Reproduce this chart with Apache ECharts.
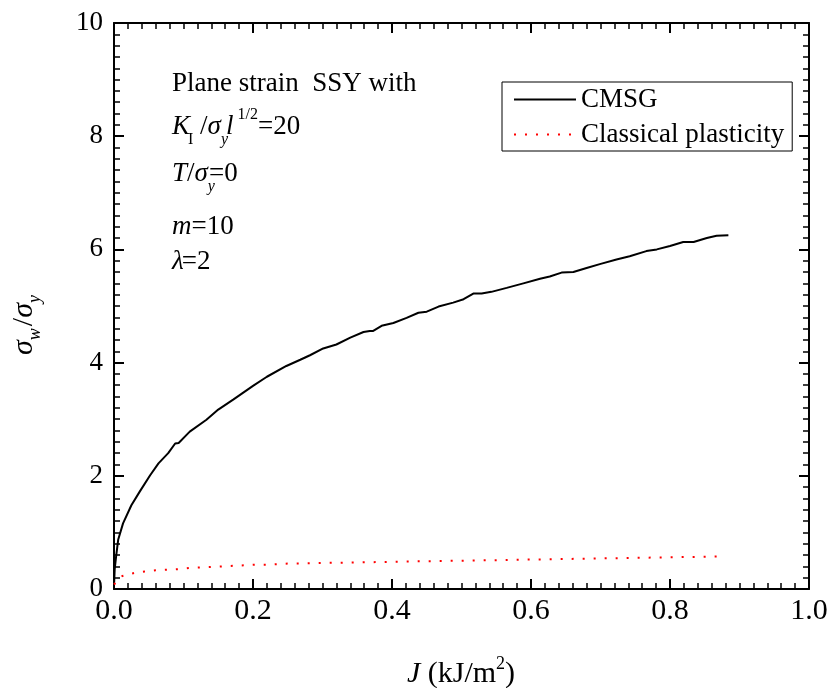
<!DOCTYPE html>
<html><head><meta charset="utf-8">
<script src="https://cdn.jsdelivr.net/npm/echarts@6/dist/echarts.min.js"></script>
<style>html,body{margin:0;padding:0;background:#fff}#c{width:831px;height:688px}</style>
</head><body><div id="c"></div>
<script>
// ---- data ----
const cmsgX = [0, 0.001, 0.003, 0.006, 0.013, 0.025, 0.037, 0.052, 0.064, 0.078, 0.088, 0.093, 0.109, 0.133, 0.150, 0.172, 0.186, 0.200, 0.220, 0.248, 0.268, 0.282, 0.301, 0.320, 0.340, 0.359, 0.368, 0.373, 0.385, 0.402, 0.421, 0.438, 0.450, 0.467, 0.488, 0.503, 0.517, 0.529, 0.543, 0.565, 0.589, 0.613, 0.627, 0.644, 0.661, 0.680, 0.699, 0.723, 0.742, 0.766, 0.781, 0.800, 0.819, 0.834, 0.853, 0.867, 0.884];
const cmsgY = [0.05, 0.35, 0.57, 0.87, 1.16, 1.48, 1.72, 2.01, 2.22, 2.40, 2.57, 2.58, 2.78, 2.99, 3.17, 3.35, 3.47, 3.59, 3.75, 3.94, 4.05, 4.13, 4.25, 4.32, 4.44, 4.54, 4.56, 4.56, 4.65, 4.70, 4.79, 4.88, 4.90, 4.99, 5.06, 5.12, 5.22, 5.22, 5.25, 5.32, 5.40, 5.48, 5.52, 5.59, 5.60, 5.67, 5.74, 5.82, 5.88, 5.97, 6.00, 6.06, 6.13, 6.13, 6.20, 6.24, 6.25];
const classX = [0, 0.012, 0.028, 0.044, 0.06, 0.076, 0.092, 0.108, 0.124, 0.14, 0.156, 0.172, 0.188, 0.204, 0.22, 0.236, 0.252, 0.268, 0.3, 0.35, 0.4, 0.445, 0.5, 0.55, 0.6, 0.65, 0.7, 0.75, 0.8, 0.85, 0.88];
const classY = [0.08, 0.23, 0.28, 0.31, 0.33, 0.34, 0.35, 0.37, 0.38, 0.39, 0.40, 0.41, 0.42, 0.43, 0.43, 0.44, 0.45, 0.45, 0.46, 0.47, 0.48, 0.49, 0.50, 0.51, 0.52, 0.53, 0.54, 0.55, 0.56, 0.57, 0.58];
const seriesNames = ['CMSG', 'Classical plasticity'];
const xRange = [0, 1.0, 0.2];
const yRange = [0, 10, 2];

// ---- helpers ----
const FONT = '"Liberation Serif","Times New Roman",serif';
const mctx = document.createElement('canvas').getContext('2d');
function fontOf(s){ return (s.it ? 'italic ' : '') + s.sz + 'px ' + FONT; }
function run(segs, x, y, opt){
  opt = opt || {};
  let cx = 0;
  const kids = segs.map(s => {
    const f = fontOf(s);
    mctx.font = f;
    const w = mctx.measureText(s.t).width;
    cx += (s.dx || 0);
    const el = {type:'text', x: cx, y: (s.dy || 0) - 0.30 * s.sz,
      style:{text: s.t, font: f, fill:'#000', align:'left', verticalAlign:'middle'}};
    cx += w;
    return el;
  });
  if (opt.center) kids.forEach(k => k.x -= cx / 2);
  return {type:'group', x: x, y: y, rotation: opt.rot || 0, children: kids, silent: true};
}
const S = (t, sz, it, dy, dx) => ({t, sz, it, dy, dx});

const chart = echarts.init(document.getElementById('c'), null, {renderer:'canvas'});
const axisCommon = {
  axisLine:{show:true, onZero:false, lineStyle:{color:'#000', width:2}},
  axisTick:{show:true, inside:true, length:10, lineStyle:{color:'#000', width:2}},
  minorTick:{show:true, splitNumber:10, length:6, lineStyle:{color:'#000', width:1.5}},
  splitLine:{show:false}
};
chart.setOption({
  animation:false,
  backgroundColor:'#fff',
  grid:{left:114, right:22, top:23, bottom:99, containLabel:false},
  legend:{
    left:502, top:82, orient:'vertical', padding:[4,8,3,11], itemGap:8,
    itemWidth:62, itemHeight:14, borderColor:'#000', borderWidth:1, borderRadius:0,
    itemStyle:{opacity:0, borderWidth:0},
    textStyle:{fontFamily:FONT, fontSize:27, color:'#000'},
    data: seriesNames
  },
  xAxis:[
    Object.assign({type:'value', min:xRange[0], max:xRange[1], interval:xRange[2], position:'bottom',
      axisLabel:{show:true, margin:7, fontFamily:FONT, fontSize:30, color:'#000', formatter:v=>v.toFixed(1)}}, axisCommon),
    Object.assign({type:'value', min:xRange[0], max:xRange[1], interval:xRange[2], position:'top',
      axisLabel:{show:false}}, axisCommon)
  ],
  yAxis:[
    Object.assign({type:'value', min:yRange[0], max:yRange[1], interval:yRange[2], position:'left',
      axisLabel:{show:true, margin:11, fontFamily:FONT, fontSize:27, color:'#000'}}, axisCommon),
    Object.assign({type:'value', min:yRange[0], max:yRange[1], interval:yRange[2], position:'right',
      axisLabel:{show:false}}, axisCommon)
  ],
  series:[
    {name:seriesNames[0], type:'line', symbol:'none', showSymbol:false, smooth:false,
      lineStyle:{color:'#000', width:2}, itemStyle:{color:'#000'},
      data: cmsgX.map((x,i)=>[x, cmsgY[i]])},
    {name:seriesNames[1], type:'line', symbol:'none', showSymbol:false, smooth:false,
      lineStyle:{color:'#ff0000', width:2, type:[2,9]}, itemStyle:{color:'#ff0000'},
      data: classX.map((x,i)=>[x, classY[i]])}
  ],
  graphic:[
    run([S('Plane strain  SSY with',27,false)], 172, 92),
    run([S('K',27,true), S('I',16,false,10,-2), S(' /',27,false), S('σ',27,true), S('y',16,true,10), S('l',27,true,0,-2),
         S(' 1/2',16,false,-15), S('=20',27,false)], 172, 135),
    run([S('T',27,true), S('/',27,false), S('σ',27,true), S('y',16,true,10), S('=0',27,false,0,-6)], 172, 182),
    run([S('m',27,true), S('=10',27,false)], 172, 235),
    run([S('λ',27,true), S('=2',27,false,0,-2)], 172, 270),
    run([S('J',30,true), S(' (kJ/m',30,false), S('2',18,false,-13), S(')',30,false)], 461, 683, {center:true}),
    run([S('σ',30,true), S('w',18,true,8), S('/',30,false,0,2), S('σ',30,true), S('y',18,true,8)], 33, 325, {center:true, rot:Math.PI/2})
  ]
});
</script>
</body></html>
